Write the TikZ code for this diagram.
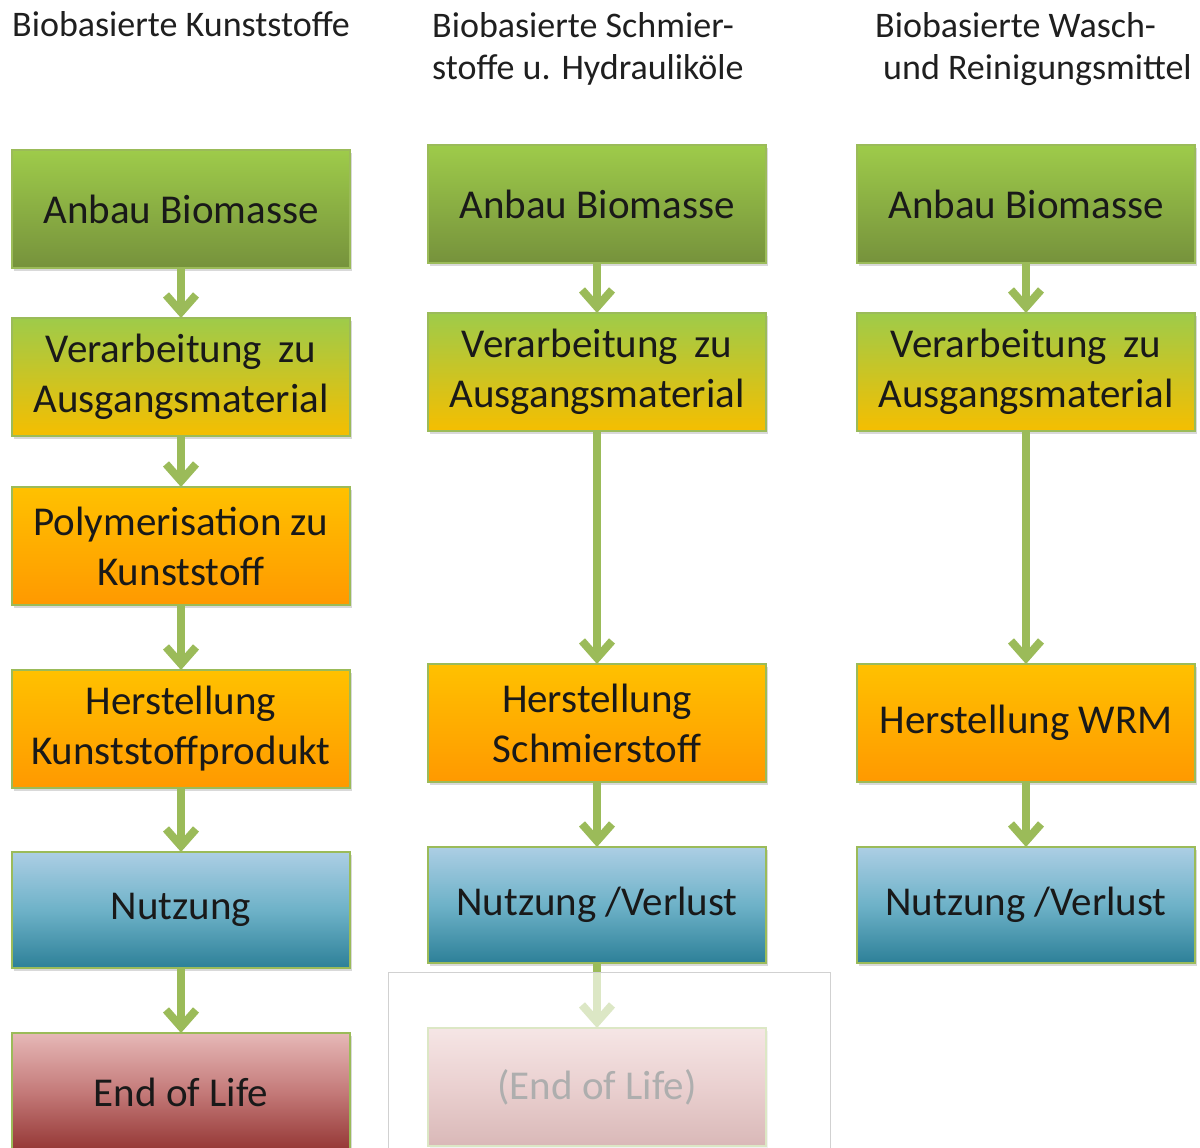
\documentclass[tikz,border=0pt]{standalone}
\usepackage{fontspec}
\setmainfont{Carlito}
\usetikzlibrary{arrows.meta,positioning,shadows}

\definecolor{flowgreen}{RGB}{155,187,89}
\definecolor{leafhi}{RGB}{158,203,74}
\definecolor{leaflo}{RGB}{118,146,60}
\definecolor{ambertop}{RGB}{255,193,0}
\definecolor{amberlo}{RGB}{255,153,0}
\definecolor{yellowlo}{RGB}{245,190,0}
\definecolor{bluetop}{RGB}{172,206,228}
\definecolor{bluemid}{RGB}{110,178,200}
\definecolor{bluelo}{RGB}{45,128,152}
\definecolor{redtop}{RGB}{230,184,183}
\definecolor{redmid}{RGB}{196,122,121}
\definecolor{redlo}{RGB}{148,54,52}

\begin{document}
\begin{tikzpicture}[x=1pt,y=-1pt,node distance=50pt,>={Straight Barb[length=17pt,width=30pt]}]
        \tikzstyle{stage}=[rectangle,draw=flowgreen,line width=1.5pt,outer sep=0pt,minimum width=338pt,minimum height=118pt,inner sep=0pt,align=center,font=\fontsize{41}{50}\selectfont,text=black!90,drop shadow={shadow xshift=2pt,shadow yshift=-3pt,opacity=0.3}]
        \tikzstyle{anbau}=[stage,top color=leafhi,bottom color=leaflo]
        \tikzstyle{verarb}=[stage,top color=leafhi,bottom color=yellowlo]
        \tikzstyle{herst}=[stage,top color=ambertop,bottom color=amberlo]
        \tikzstyle{nutz}=[stage,top color=bluetop,bottom color=bluelo,middle color=bluemid]
        \tikzstyle{eol}=[stage,top color=redtop,bottom color=redlo,middle color=redmid]
        \tikzstyle{title}=[anchor=base west,inner sep=0pt,align=left,font=\fontsize{36}{43}\selectfont,text=black!88]
        \tikzstyle{flow}=[->,line width=8pt,draw=flowgreen]
        \clip (0,0) rectangle (1200,1148);
        \useasboundingbox (0,0) rectangle (1200,1148);
        % column titles (base = last line)
        \node[title] (t1) at (12,37) {Biobasierte Kunststoffe};
        \node[title] (t2) at (432,80) {Biobasierte Schmier-\\stoffe u. Hydrauliköle};
        \node[title] (t3) at (875,80) {Biobasierte Wasch-\\\hspace{8pt}und Reinigungsmittel};
        % Kunststoffe
        \begin{scope}
        \node[anbau] (k1) at (181,209) {Anbau Biomasse};
        \node[verarb,below=50pt of k1] (k2) {Verarbeitung\hspace{0.4em}zu\\Ausgangsmaterial};
        \node[herst,below=51pt of k2] (k3) {Polymerisation zu\\Kunststoff};
        \node[herst,below=65pt of k3] (k4) {Herstellung\\Kunststoffprodukt};
        \node[nutz,below=64pt of k4,minimum height=116pt] (k5) {Nutzung};
        \node[eol,below=65pt of k5] (k6) {End of Life};
        \draw[flow] (k1) -- (k2);
        \draw[flow] (k2) -- (k3);
        \draw[flow] (k3) -- (k4);
        \draw[flow] (k4) -- (k5);
        \draw[flow] (k5) -- (k6);
        \end{scope}
        % Schmierstoffe
        \begin{scope}
        \node[anbau] (s1) at (597,204) {Anbau Biomasse};
        \node[verarb,below=50pt of s1] (s2) {Verarbeitung\hspace{0.4em}zu\\Ausgangsmaterial};
        \node[herst,below=233pt of s2] (s3) {Herstellung\\Schmierstoff};
        \node[nutz,below=65pt of s3,minimum height=116pt] (s4) {Nutzung /Verlust};
        \node[eol,below=65pt of s4] (s5) {(End of Life)};
        \draw[flow] (s1) -- (s2);
        \draw[flow] (s2) -- (s3);
        \draw[flow] (s3) -- (s4);
        \draw[flow] (s4) -- (s5);
        \end{scope}
        % veil over the optional step
        \draw[draw=black!18,line width=1pt,fill=white,fill opacity=0.65] (388,972) rectangle (830,1160);
        % Wasch- und Reinigungsmittel
        \begin{scope}
        \node[anbau] (w1) at (1026,204) {Anbau Biomasse};
        \node[verarb,below=50pt of w1] (w2) {Verarbeitung\hspace{0.4em}zu\\Ausgangsmaterial};
        \node[herst,below=233pt of w2] (w3) {Herstellung WRM};
        \node[nutz,below=65pt of w3,minimum height=116pt] (w4) {Nutzung /Verlust};
        \draw[flow] (w1) -- (w2);
        \draw[flow] (w2) -- (w3);
        \draw[flow] (w3) -- (w4);
        \end{scope}
\end{tikzpicture}
\end{document}
